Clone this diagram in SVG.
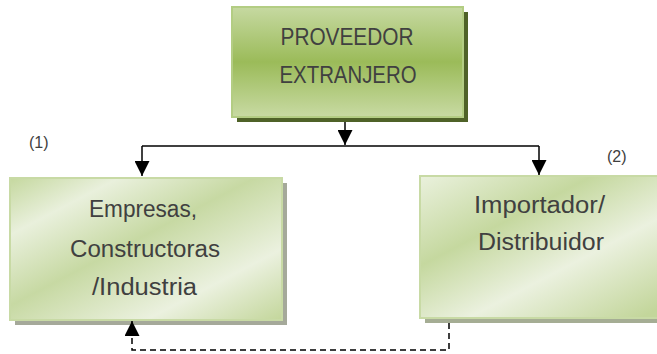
<svg xmlns="http://www.w3.org/2000/svg" width="657" height="354" viewBox="0 0 657 354">
<style>
.t{font-family:"Liberation Sans",Arial,sans-serif;font-size:23px;fill:#404040;text-anchor:middle}
.s{font-family:"Liberation Sans",Arial,sans-serif;font-size:16px;fill:#404040}
.ln{stroke:#000;stroke-width:1.5;fill:none}
</style>
<defs>
<linearGradient id="gTop" x1="0" y1="0" x2="0" y2="1">
<stop offset="0" stop-color="#c6d9a1"/>
<stop offset="0.5" stop-color="#9bbb59"/>
<stop offset="1" stop-color="#c8daa3"/>
</linearGradient>
<linearGradient id="gL" x1="0" y1="0" x2="1" y2="1">
<stop offset="0" stop-color="#c5d89f"/>
<stop offset="0.2" stop-color="#e9f0dc"/>
<stop offset="0.45" stop-color="#c7d9a3"/>
<stop offset="0.75" stop-color="#ebf1df"/>
<stop offset="1" stop-color="#c3d69b"/>
</linearGradient>
<linearGradient id="gR" x1="0" y1="0" x2="0.9" y2="1">
<stop offset="0" stop-color="#eaf1dd"/>
<stop offset="0.35" stop-color="#c5d89f"/>
<stop offset="0.65" stop-color="#ebf1df"/>
<stop offset="1" stop-color="#c3d69b"/>
</linearGradient>
<marker id="ah2" viewBox="0 0 10 10" refX="10" refY="5" markerWidth="15" markerHeight="15" markerUnits="userSpaceOnUse" orient="auto">
<path d="M0,0 L10,5 L0,10 z" fill="#000"/>
</marker>
</defs>
<g id="proveedor">
<rect x="237" y="12" width="231" height="110" fill="#4f6228"/>
<rect x="232" y="7" width="231" height="110" fill="url(#gTop)" stroke="#b3cd83" stroke-width="2"/>
<text class="t" x="347" y="45" textLength="133" lengthAdjust="spacingAndGlyphs">PROVEEDOR</text>
<text class="t" x="348" y="83" textLength="137" lengthAdjust="spacingAndGlyphs">EXTRANJERO</text>
</g>
<g id="empresas">
<rect x="15" y="183" width="272" height="142" fill="#a5a99a"/>
<rect x="10" y="178" width="272" height="142" fill="url(#gL)" stroke="#c8daa5" stroke-width="2"/>
<text class="t" x="143" y="217" textLength="108" lengthAdjust="spacingAndGlyphs">Empresas,</text>
<text class="t" x="145" y="257" textLength="150" lengthAdjust="spacingAndGlyphs">Constructoras</text>
<text class="t" x="144.5" y="295" textLength="105" lengthAdjust="spacingAndGlyphs">/Industria</text>
</g>
<g id="importador">
<rect x="425" y="181" width="240" height="142" fill="#a5ad94"/>
<rect x="420" y="176" width="245" height="142" fill="url(#gR)" stroke="#c8daa5" stroke-width="2"/>
<text class="t" x="539.5" y="213" textLength="131" lengthAdjust="spacingAndGlyphs">Importador/</text>
<text class="t" x="541" y="250" textLength="126" lengthAdjust="spacingAndGlyphs">Distribuidor</text>
</g>
<g id="connectors">
<path class="ln" d="M345,122 V145" marker-end="url(#ah2)"/>
<path class="ln" d="M142,146 H539"/>
<path class="ln" d="M142,146 V176" marker-end="url(#ah2)"/>
<path class="ln" d="M539,146 V175" marker-end="url(#ah2)"/>
<path class="ln" d="M449,323 V350 H132 V321" stroke-dasharray="6,4" marker-end="url(#ah2)"/>
</g>
<text class="s" x="29" y="148">(1)</text>
<text class="s" x="607" y="162">(2)</text>
</svg>
